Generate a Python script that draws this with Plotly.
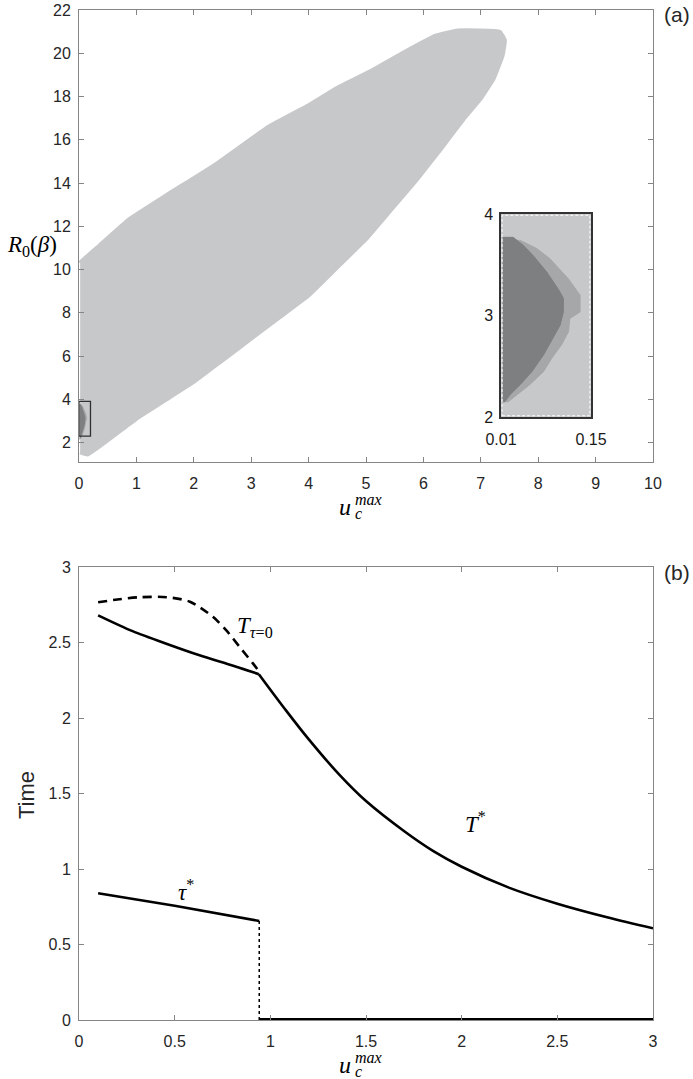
import plotly.graph_objects as go

# ---------------- Panel (a): feasible region (grey cloud) ----------------
region_lower_x = [0.02, 0.15, 0.4, 0.7, 1.0, 1.5, 2.0, 2.5, 3.0, 3.5, 4.0, 4.5, 5.0, 5.45, 5.9, 6.3, 6.7, 7.0, 7.22, 7.38, 7.42]
region_lower_y = [1.55, 1.45, 1.9, 2.5, 3.1, 3.95, 4.8, 5.8, 6.8, 7.8, 8.8, 10.1, 11.4, 12.8, 14.2, 15.55, 16.95, 17.9, 18.8, 19.9, 20.6]
region_upper_x = [7.33, 6.6, 6.2, 5.7, 5.1, 4.5, 4.0, 3.3, 2.4, 1.5, 0.86, 0.37, 0.05, 0.02]
region_upper_y = [21.0, 21.05, 20.8, 20.1, 19.2, 18.4, 17.6, 16.6, 14.9, 13.4, 12.3, 11.15, 10.4, 10.3]

# zoom box drawn in the main panel
zoom_box_x = [0.0, 0.2]
zoom_box_y = [2.3, 3.9]

# inset (zoom of the small box)
inset_x_range = [0.01, 0.15]
inset_y_range = [2, 4]
inset_x_ticks = [0.01, 0.15]
inset_x_ticktext = ["0.01", "0.15"]
inset_y_ticks = [2, 3, 4]
inner_left = 0.0125
dark_right_y = [3.77, 3.69, 3.59, 3.43, 3.26, 3.17, 3.035, 2.905, 2.775, 2.61, 2.447, 2.32, 2.22, 2.15]
dark_right_x = [0.029, 0.045, 0.060, 0.081, 0.099, 0.107, 0.107, 0.102, 0.091, 0.076, 0.058, 0.040, 0.024, 0.016]
mid_right_y = [3.74, 3.66, 3.56, 3.36, 3.2, 3.035, 2.97, 2.84, 2.71, 2.58, 2.447, 2.32, 2.22, 2.15]
mid_right_x = [0.040, 0.0655, 0.086, 0.115, 0.133, 0.133, 0.117, 0.115, 0.104, 0.089, 0.076, 0.055, 0.034, 0.021]

top_x_ticks = list(range(0, 11))
top_y_ticks = list(range(2, 23, 2))
top_y_range = [1.1, 22]
top_x_range = [0, 10]

# ---------------- Panel (b): times ----------------
t_tau0_x = [0.1, 0.2, 0.32, 0.46, 0.58, 0.70, 0.77, 0.84, 0.91, 0.94]
t_tau0_y = [2.766, 2.785, 2.80, 2.80, 2.77, 2.67, 2.58, 2.47, 2.36, 2.31]

# T* before and after the switching point
t_star_left_x = [0.1, 0.28, 0.46, 0.63, 0.81, 0.94]
t_star_left_y = [2.68, 2.575, 2.49, 2.415, 2.345, 2.29]
t_star_right_x = [0.94, 1.07, 1.2, 1.364, 1.5, 1.7, 1.85, 2.0, 2.25, 2.5, 2.76, 3.0]
t_star_right_y = [2.29, 2.07, 1.86, 1.62, 1.45, 1.25, 1.12, 1.015, 0.875, 0.77, 0.68, 0.607]

tau_star_x = [0.1, 0.5, 0.942]
tau_star_y = [0.839, 0.757, 0.656]

switch_x = 0.942
tau_zero_x = [0.942, 3.0]
tau_zero_y = [0.0, 0.0]

bot_ticks = [0, 0.5, 1, 1.5, 2, 2.5, 3]

# ---------------- styling ----------------
LIGHT = "#c7c8ca"
MID = "#a6a7a9"
DARK = "#7e7f81"
AX = "#858585"
TXT = "#262626"
SANS = "Liberation Sans, Arial, sans-serif"
SERIF = "Liberation Serif, Times New Roman, serif"

W, H = 693, 1079
L, T = 79, 10
R = W - 653
B = H - 1020
PW, PH = W - L - R, H - T - B


def px2paper(px, py):
    """page pixel -> paper fraction"""
    return (px - L) / PW, 1 - (py - T) / PH


fig = go.Figure()

# main grey region
fig.add_trace(go.Scatter(
    x=region_lower_x + region_upper_x, y=region_lower_y + region_upper_y,
    fill="toself", fillcolor=LIGHT, mode="lines", line=dict(color=LIGHT, width=4, shape="spline", smoothing=0.3),
    xaxis="x", yaxis="y", hoverinfo="skip"))


def region_poly(rx, ry):
    xs = [inner_left] + rx + [inner_left]
    ys = [ry[0]] + ry + [ry[-1]]
    return xs, ys


# miniature shading inside the zoom box (main axes)
for rx, ry, col in [(mid_right_x, mid_right_y, MID), (dark_right_x, dark_right_y, DARK)]:
    xs, ys = region_poly(rx, ry)
    fig.add_trace(go.Scatter(x=xs, y=ys, fill="toself", fillcolor=col, mode="lines",
                             line=dict(color=col, width=0.5), xaxis="x", yaxis="y", hoverinfo="skip"))

# zoom box outline
fig.add_trace(go.Scatter(
    x=[zoom_box_x[0], zoom_box_x[1], zoom_box_x[1], zoom_box_x[0], zoom_box_x[0]],
    y=[zoom_box_y[0], zoom_box_y[0], zoom_box_y[1], zoom_box_y[1], zoom_box_y[0]],
    mode="lines", line=dict(color="#303030", width=1.3), xaxis="x", yaxis="y", hoverinfo="skip"))

# inset background
fig.add_trace(go.Scatter(
    x=[inset_x_range[0], inset_x_range[1], inset_x_range[1], inset_x_range[0]],
    y=[inset_y_range[0], inset_y_range[0], inset_y_range[1], inset_y_range[1]],
    fill="toself", fillcolor=LIGHT, mode="lines", line=dict(color=LIGHT, width=0),
    xaxis="x3", yaxis="y3", hoverinfo="skip"))
for rx, ry, col in [(mid_right_x, mid_right_y, MID), (dark_right_x, dark_right_y, DARK)]:
    xs, ys = region_poly(rx, ry)
    fig.add_trace(go.Scatter(x=xs, y=ys, fill="toself", fillcolor=col, mode="lines",
                             line=dict(color=col, width=1), xaxis="x3", yaxis="y3", hoverinfo="skip"))
# white dashed inner frame of the inset
ix0 = inset_x_range[0] + 0.012 * (inset_x_range[1] - inset_x_range[0])
ix1 = inset_x_range[1] - 0.012 * (inset_x_range[1] - inset_x_range[0])
iy0 = inset_y_range[0] + 0.006 * (inset_y_range[1] - inset_y_range[0])
iy1 = inset_y_range[1] - 0.006 * (inset_y_range[1] - inset_y_range[0])
fig.add_trace(go.Scatter(x=[ix0, ix1, ix1, ix0, ix0], y=[iy0, iy0, iy1, iy1, iy0], mode="lines",
                         line=dict(color="white", width=1, dash="3px,2px"),
                         xaxis="x3", yaxis="y3", hoverinfo="skip"))

# panel (b) curves
fig.add_trace(go.Scatter(x=t_tau0_x, y=t_tau0_y, mode="lines",
                         line=dict(color="black", width=2.6, dash="9px,6px", shape="spline", smoothing=0.8),
                         xaxis="x2", yaxis="y2"))
fig.add_trace(go.Scatter(x=t_star_left_x, y=t_star_left_y, mode="lines",
                         line=dict(color="black", width=2.6, shape="spline", smoothing=0.8),
                         xaxis="x2", yaxis="y2"))
fig.add_trace(go.Scatter(x=t_star_right_x, y=t_star_right_y, mode="lines",
                         line=dict(color="black", width=2.6, shape="spline", smoothing=1.0),
                         xaxis="x2", yaxis="y2"))
fig.add_trace(go.Scatter(x=tau_star_x, y=tau_star_y, mode="lines",
                         line=dict(color="black", width=2.6, shape="spline", smoothing=0.6),
                         xaxis="x2", yaxis="y2"))
fig.add_trace(go.Scatter(x=[switch_x, switch_x], y=[tau_star_y[-1], 0], mode="lines",
                         line=dict(color="black", width=1.5, dash="dot"), xaxis="x2", yaxis="y2"))
fig.add_trace(go.Scatter(x=tau_zero_x, y=tau_zero_y, mode="lines", line=dict(color="black", width=4),
                         xaxis="x2", yaxis="y2"))

common = dict(showline=True, linecolor=AX, linewidth=1, mirror="ticks", ticks="inside", ticklen=5,
              tickcolor=AX, tickwidth=1, showgrid=False, zeroline=False, automargin=False,
              ticklabeloverflow="allow", tickfont=dict(family=SANS, size=16, color=TXT))

_, y_top0 = px2paper(0, 462)
_, y_bot1 = px2paper(0, 567)
ix_a, iy_a = px2paper(501, 417)
ix_b, iy_b = px2paper(591, 214)

fig.update_layout(
    template="none",
    width=W, height=H, margin=dict(l=L, r=R, t=T, b=B, autoexpand=False),
    plot_bgcolor="white", paper_bgcolor="white", showlegend=False,
    xaxis=dict(domain=[0, 1], anchor="y", range=top_x_range, tickvals=top_x_ticks,
               ticklabelstandoff=7, **common),
    yaxis=dict(domain=[y_top0, 1], anchor="x", range=top_y_range, tickvals=top_y_ticks,
               ticklabelstandoff=4, **common),
    xaxis2=dict(domain=[0, 1], anchor="y2", range=[0, 3], tickvals=bot_ticks,
                ticklabelstandoff=7, **common),
    yaxis2=dict(domain=[0, y_bot1], anchor="x2", range=[0, 3], tickvals=bot_ticks,
                ticklabelstandoff=4, **common),
    xaxis3=dict(domain=[ix_a, ix_b], anchor="y3", range=inset_x_range, tickvals=inset_x_ticks,
                ticktext=inset_x_ticktext, showline=True, linecolor="#333333", linewidth=1.5, mirror=True,
                ticks="", showgrid=False, zeroline=False, ticklabelstandoff=7, automargin=False,
                ticklabeloverflow="allow", tickfont=dict(family=SANS, size=16, color="#1a1a1a")),
    yaxis3=dict(domain=[iy_a, iy_b], anchor="x3", range=inset_y_range, tickvals=inset_y_ticks,
                showline=True, linecolor="#333333", linewidth=1.5, mirror=True,
                ticks="", showgrid=False, zeroline=False, ticklabelstandoff=3, automargin=False,
                ticklabeloverflow="allow", tickfont=dict(family=SANS, size=16, color="#1a1a1a")),
)

ann = []


def add_text(px, py, text, size, family, xanchor="center", yanchor="middle", angle=0, color="black"):
    xp, yp = px2paper(px, py)
    ann.append(dict(x=xp, y=yp, xref="paper", yref="paper", text=text, showarrow=False,
                    xanchor=xanchor, yanchor=yanchor, textangle=angle,
                    font=dict(family=family, size=size, color=color)))


# x-axis titles u_c^max (top and bottom panels)
for base in (462, 1020):
    add_text(353, base + 45, "<i>u</i>", 24, SERIF, xanchor="right")
    add_text(353, base + 37, "<i>max</i>", 16, SERIF, xanchor="left")
    add_text(353, base + 51, "<i>c</i>", 16, SERIF, xanchor="left")

# y-axis titles
add_text(59, 246, "<i>R</i><sub>0</sub>(<i>β</i>)", 23, SERIF, xanchor="right")
add_text(26, 795, "Time", 22, SANS, angle=-90, color=TXT)

# panel labels
add_text(662, 14, "(a)", 21, SANS, xanchor="left", color=TXT)
add_text(662, 572, "(b)", 21, SANS, xanchor="left", color=TXT)

# curve labels in panel (b), data coordinates
ann.append(dict(x=0.92, y=2.60, xref="x2", yref="y2", showarrow=False,
                text="<i>T</i><sub><i>τ</i>=0</sub>", font=dict(family=SERIF, size=23, color="black")))
ann.append(dict(x=0.56, y=0.86, xref="x2", yref="y2", showarrow=False,
                text="<i>τ</i><sup>*</sup>", font=dict(family=SERIF, size=23, color="black")))
ann.append(dict(x=2.07, y=1.31, xref="x2", yref="y2", showarrow=False,
                text="<i>T</i><sup>*</sup>", font=dict(family=SERIF, size=23, color="black")))

fig.update_layout(annotations=ann)
fig.write_html(
    "out.html",
    config={"displayModeBar": False},
    post_script="document.body.style.margin='0';document.body.style.overflow='hidden';",
)
